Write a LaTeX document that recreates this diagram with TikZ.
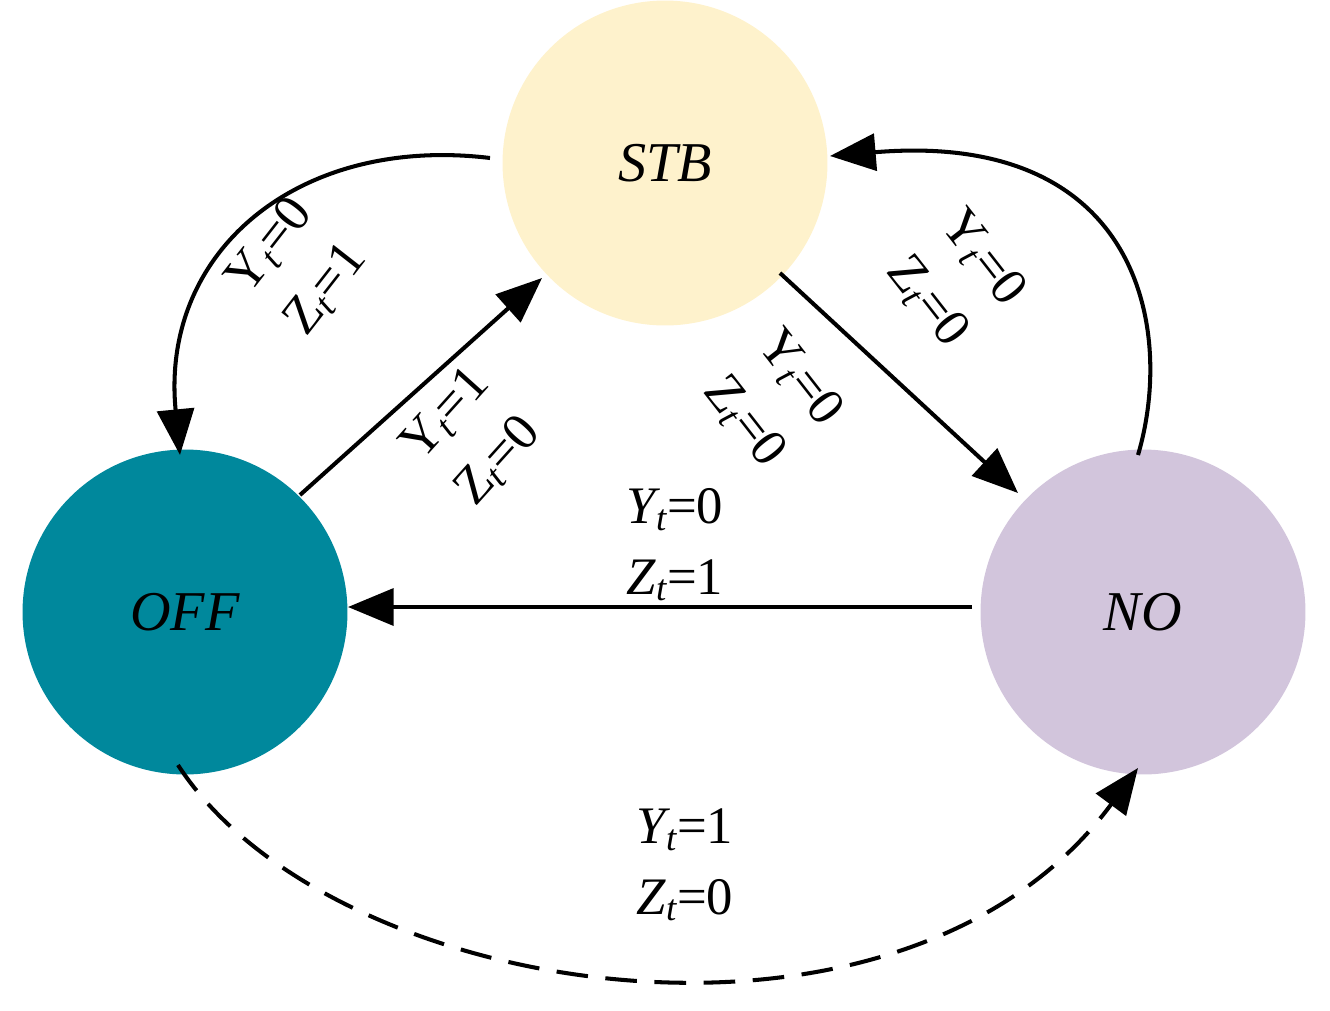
\documentclass[tikz,border=0pt]{standalone}
\usepackage{fontspec}
\setmainfont{Liberation Serif}
\usetikzlibrary{arrows.meta}
\definecolor{cstb}{HTML}{FEF2CC}
\definecolor{coff}{HTML}{00889C}
\definecolor{cno}{HTML}{D2C5DC}
\begin{document}
\begin{tikzpicture}[x=0.02cm,y=-0.02cm,
  st/.style={circle,minimum size=6.5cm,inner sep=0pt,font=\fontsize{32}{38}\selectfont\itshape},
  ar/.style={line width=2.3pt,-{Triangle[length=26pt,width=21pt]}},
  lb/.style={font=\fontsize{30}{40}\selectfont,align=center}]
\useasboundingbox (0,0) rectangle (1330,1011);
\node[st,fill=cstb] (stb) at (665,163) {STB};
\node[st,fill=coff] (off) at (185,612) {OFF};
\node[st,fill=cno] (no) at (1143,612) {NO};
\coordinate (a1) at (490,158); \coordinate (a2) at (180,455);
\draw[ar] (a1) .. controls (300,135) and (160,250) .. (a2);
\coordinate (b1) at (300,495); \coordinate (b2) at (542,278);
\draw[ar] (b1) -- (b2);
\coordinate (c1) at (780,273); \coordinate (c2) at (1018,493);
\draw[ar] (c1) -- (c2);
\coordinate (d1) at (1138,455); \coordinate (d2) at (830,156);
\draw[ar] (d1) .. controls (1175,330) and (1140,130) .. (d2);
\coordinate (e1) at (972,607); \coordinate (e2) at (348,607);
\draw[ar] (e1) -- (e2);
\coordinate (f1) at (178,765); \coordinate (f2) at (1138,768);
\draw[ar,dash pattern=on 18pt off 10pt] (f1) .. controls (330,1000) and (900,1090) .. (f2);
\node[lb,rotate=52] (l1) at (298,268) {Y\textit{\textsubscript{t}}=0\\Z\textit{\textsubscript{t}}=1};
\node[lb,rotate=48] (l2) at (472,438) {Y\textit{\textsubscript{t}}=1\\Z\textit{\textsubscript{t}}=0};
\node[lb,rotate=-52] (l3) at (772,400) {Y\textit{\textsubscript{t}}=0\\Z\textit{\textsubscript{t}}=0};
\node[lb,rotate=-52] (l4) at (955,280) {Y\textit{\textsubscript{t}}=0\\Z\textit{\textsubscript{t}}=0};
\node[lb] (l5) at (675,545) {\textit{Y\textsubscript{t}}=0\\\textit{Z\textsubscript{t}}=1};
\node[lb] (l6) at (685,865) {\textit{Y\textsubscript{t}}=1\\\textit{Z\textsubscript{t}}=0};
\end{tikzpicture}
\end{document}
